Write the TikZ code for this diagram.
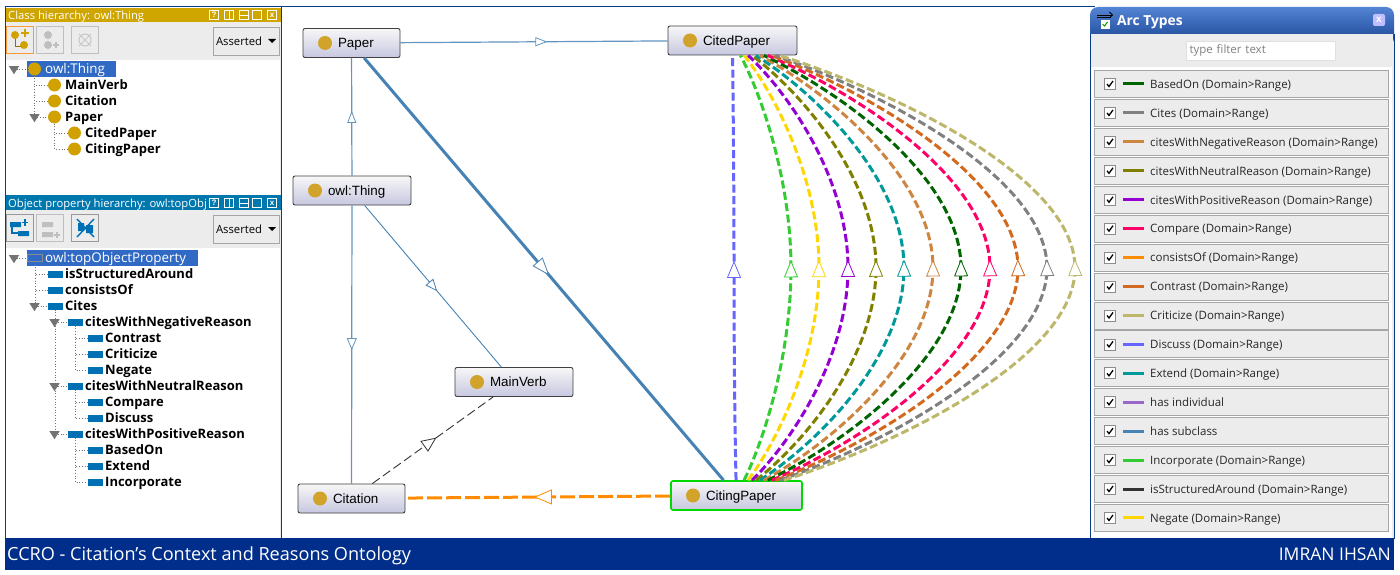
\documentclass[tikz,border=0pt]{standalone}
\usepackage{fontspec}
\setmainfont{Liberation Sans}
\newfontfamily\uifont{Open Sans}
\usetikzlibrary{arrows.meta,decorations.markings,shapes.geometric,calc}
\definecolor{frameblue}{HTML}{0A3A8C}
\definecolor{barblue}{HTML}{002E8A}
\definecolor{goldbar}{HTML}{CFA500}
\definecolor{propbar}{HTML}{0078AE}
\definecolor{panelgrey}{HTML}{ECECEC}
\definecolor{selblue}{HTML}{316AC5}
\definecolor{iconblue}{HTML}{0070B4}
\definecolor{icongold}{HTML}{D2A32A}
\definecolor{treegold}{HTML}{D0A100}
\definecolor{edgeblue}{HTML}{4682B4}
\definecolor{headtop}{HTML}{5484D4}
\definecolor{headbottom}{HTML}{153F8E}
\definecolor{arcBasedOn}{HTML}{006400}
\definecolor{arcCites}{HTML}{808080}
\definecolor{arcNegative}{HTML}{CD853F}
\definecolor{arcNeutral}{HTML}{808000}
\definecolor{arcPositive}{HTML}{9400D3}
\definecolor{arcCompare}{HTML}{FF0066}
\definecolor{arcConsists}{HTML}{FF8C00}
\definecolor{arcContrast}{HTML}{D2691E}
\definecolor{arcCriticize}{HTML}{BDB76B}
\definecolor{arcDiscuss}{HTML}{6666FF}
\definecolor{arcExtend}{HTML}{009999}
\definecolor{arcIndividual}{HTML}{9966CC}
\definecolor{arcIncorporate}{HTML}{33CC33}
\definecolor{arcStructured}{HTML}{333333}
\definecolor{arcNegate}{HTML}{FFD700}
\tikzset{
	classbox/.style={rectangle, rounded corners=2pt, draw=black!75, line width=0.9pt, top color=black!3, bottom color=blue!45!black!22, inner xsep=0pt, inner ysep=0pt, text width=#1, text height=9.5pt, text depth=0pt, minimum height=29pt, align=left, font=\fontsize{13.4}{16}\selectfont, execute at begin node={\hspace*{35pt}}, path picture={\fill[icongold] ([xshift=22pt]path picture bounding box.west) circle (7pt);}},
	treeitem/.style={anchor=base west, inner sep=0pt, font=\uifont\bfseries\fontsize{13}{15}\selectfont},
	treesel/.style={anchor=base west, inner sep=0pt, text=white, font=\uifont\fontsize{13.4}{15}\selectfont},
	treetri/.style={isosceles triangle, isosceles triangle apex angle=65, shape border rotate=270, fill=black!55, inner sep=0pt, minimum height=8pt, minimum width=10pt},
	clsicon/.style={circle, fill=treegold, inner sep=0pt, minimum size=13pt},
	propicon/.style={rectangle, fill=iconblue, inner sep=0pt, minimum width=15pt, minimum height=7pt},
	treeline/.style={black!55, line width=0.7pt, dotted},
	barlabel/.style={anchor=base west, inner sep=0pt, text=white, font=\uifont\fontsize{11.25}{14}\selectfont},
	barbtn/.style={rectangle, draw=white, line width=0.9pt, inner sep=0pt, minimum size=9pt, text=white, font=\bfseries\fontsize{8}{8}\selectfont},
	toolbtn/.style={rectangle, draw=black!25, line width=0.8pt, fill=panelgrey, inner sep=0pt, minimum width=27pt, minimum height=27pt},
	combobox/.style={rectangle, draw=black!35, line width=0.8pt, fill=panelgrey, inner sep=0pt, minimum width=66pt, minimum height=28pt, text width=60pt, align=left, font=\uifont\fontsize{11.3}{14}\selectfont},
	arcrow/.style={rectangle, draw=black!35, line width=0.8pt, fill=panelgrey, inner sep=0pt, minimum width=294pt, minimum height=27pt},
	arclabel/.style={anchor=base west, inner sep=0pt, text=black!85, font=\uifont\fontsize{11.5}{14}\selectfont},
	checkbox/.style={rectangle, draw=black!45, line width=0.7pt, fill=white, inner sep=0pt, minimum size=11pt},
	tipat/.style n args={3}{postaction={decorate}, decoration={markings, mark=at position #1 with {\arrow{Triangle[open, fill=white, length=#2, width=#3, line width=0.8pt]}}}},
	arctip/.style={postaction={decorate}, decoration={markings, mark=at position 0.5 with {\pgftransformxshift{7pt}\arrow{Triangle[open, fill=white, length=17pt, width=14pt, line width=0.8pt]}}}},
	subedge/.style={edgeblue!85, line width=1.2pt},
	arcedge/.style={line width=3pt, dash pattern=on 8pt off 3.5pt}
}
\begin{document}
\begin{tikzpicture}[x=1pt, y=-1pt]
	\useasboundingbox (0,0) rectangle (1400,575);
	\fill[white] (0,0) rectangle (1400,575);
	\fill[panelgrey] (6,8) rectangle (281,539);
	\fill[white] (6,60) rectangle (280,195);
	\fill[white] (6,248) rectangle (280,539);
	\fill[goldbar] (6,8) rectangle (281,22);
	\fill[propbar] (6,195) rectangle (281,210);
	\draw[frameblue, line width=1pt] (5,539) -- (5,7) -- (1095,7);
	\draw[frameblue, line width=1pt] (281,7) -- (281,539);
	\node[barlabel] (classtitle) at (8,19.5) {Class hierarchy: owl:Thing};
	\node[barlabel] (proptitle) at (8,207.5) {Object property hierarchy: owl:topObj};
	\foreach \bx/\bsym [count=\i] in {214/?,229/,244/,257/,272/x}{
		\node[barbtn] (clsbtn\i) at (\bx,15) {\bsym};
		\node[barbtn] (propbtn\i) at (\bx,203) {\bsym};
	}
	\draw[white, line width=0.9pt] (clsbtn2.north) -- (clsbtn2.south) (propbtn2.north) -- (propbtn2.south);
	\draw[white, line width=0.9pt] (clsbtn3.west) -- (clsbtn3.east) (propbtn3.west) -- (propbtn3.east);
	\node[toolbtn, draw=orange!80, line width=1pt] (clsadd) at (20,40) {};
	\node[toolbtn] (clssub) at (50,40) {};
	\node[toolbtn] (clsdel) at (85,40) {};
	\node[toolbtn, draw=black!40] (propadd) at (20,228) {};
	\node[toolbtn] (propsub) at (50,228) {};
	\node[toolbtn, draw=black!40] (propdel) at (85,228) {};
	\draw[treegold!70!black, line width=0.8pt] (15,37) |- (24,46);
	\fill[treegold] (15,35) circle (4pt) (24,45) circle (4pt);
	\draw[treegold, line width=1.4pt] (21,33) -- (29,33) (25,29) -- (25,37);
	\fill[black!25] (48,35) circle (4pt) (48,45) circle (4pt);
	\draw[black!25, line width=1.3pt] (53,45) -- (59,45) (56,42) -- (56,48);
	\draw[black!22, line width=1pt] (85,40) circle (6pt) (79,34) -- (91,46) (91,34) -- (79,46);
	\fill[iconblue] (10,222) rectangle (21,227) (18,231) rectangle (29,236);
	\draw[iconblue, line width=1.2pt] (12,227) |- (18,233) (25,219) -- (25,226) (22,222.5) -- (28,222.5);
	\fill[black!25] (42,222) rectangle (53,227) (42,232) rectangle (53,237);
	\draw[black!25, line width=1.3pt] (54,235) -- (60,235) (57,232) -- (57,238);
	\fill[iconblue] (78,223) rectangle (84,231) (86,225) rectangle (93,233);
	\draw[iconblue, line width=1.4pt] (77,219) -- (94,237) (94,219) -- (77,237);
	\node[combobox] (clsmode) at (246,41) {Asserted};
	\node[combobox] (propmode) at (246,229) {Asserted};
	\fill[black] (268,39) -- (276,39) -- (272,43) -- cycle (268,227) -- (276,227) -- (272,231) -- cycle;
	\fill[selblue] (27,61) rectangle (116,77);
	\fill[selblue] (27,250) rectangle (198,266);
	\node[treesel] (c-thing-t) at (45,73.7) {owl:Thing};
	\node[clsicon] (c-thing-i) at (34.5,69) {};
	\node[treetri] (c-thing-tri) at (14,69) {};
	\foreach \nm/\ix/\yy/\txt in {mainverb/54.5/85/MainVerb, citation/54.5/101/Citation, paper/54.5/117/Paper, cited/74.5/133/CitedPaper, citing/74.5/149/CitingPaper}{
		\node[clsicon] (c-\nm-i) at (\ix,\yy) {};
		\node[treeitem] (c-\nm-t) at (\ix+10.5,\yy+4.7) {\txt};
	}
	\node[treetri] (c-paper-tri) at (34.5,117) {};
	\foreach \from/\to in {c-thing-tri/c-thing-i, c-thing-i/c-mainverb-i, c-thing-i/c-citation-i, c-thing-i/c-paper-tri, c-paper-tri/c-paper-i, c-paper-i/c-cited-i, c-paper-i/c-citing-i}{
		\draw[treeline] (\from) |- (\to);
	}
	\node[treesel] (p-top-t) at (45,262.5) {owl:topObjectProperty};
	\node[propicon, fill=selblue, draw=black!45] (p-top-i) at (35,258) {};
	\node[treetri] (p-top-tri) at (14,258) {};
	\foreach \nm/\ix/\yy/\txt in {struct/55/274/isStructuredAround, consists/55/290/consistsOf, cites/55/306/Cites, neg/75/322/citesWithNegativeReason, contrast/95/338/Contrast, criticize/95/354/Criticize, negate/95/370/Negate, neutral/75/386/citesWithNeutralReason, compare/95/402/Compare, discuss/95/418/Discuss, pos/75/434/citesWithPositiveReason, basedon/95/450/BasedOn, extend/95/466/Extend, incorporate/95/482/Incorporate}{
		\node[propicon] (p-\nm-i) at (\ix,\yy) {};
		\node[treeitem] (p-\nm-t) at (\ix+10,\yy+4.5) {\txt};
	}
	\foreach \nm/\ix/\yy in {cites/34.5/306, neg/54.5/322, neutral/54.5/386, pos/54.5/434}{
		\node[treetri] (p-\nm-tri) at (\ix,\yy) {};
		\draw[treeline] (p-\nm-tri) -- (p-\nm-i);
	}
	\foreach \from/\to in {p-top-tri/p-top-i, p-top-i/p-struct-i, p-top-i/p-consists-i, p-top-i/p-cites-tri, p-cites-i/p-neg-tri, p-cites-i/p-neutral-tri, p-cites-i/p-pos-tri, p-neg-i/p-contrast-i, p-neg-i/p-criticize-i, p-neg-i/p-negate-i, p-neutral-i/p-compare-i, p-neutral-i/p-discuss-i, p-pos-i/p-basedon-i, p-pos-i/p-extend-i, p-pos-i/p-incorporate-i}{
		\draw[treeline] (\from) |- (\to);
	}
	\node[classbox=97pt] (paper) at (351.5,43) {Paper};
	\node[classbox=118pt] (thing) at (352,190.5) {owl:Thing};
	\node[classbox=129pt] (cited) at (732.5,40.5) {CitedPaper};
	\node[classbox=118pt] (mainverb) at (514,382) {MainVerb};
	\node[classbox=107pt] (citation) at (351.5,498.5) {Citation};
	\node[classbox=131pt, draw=green!85!black, line width=1.6pt] (citing) at (736.5,495.5) {CitingPaper};
	\draw[subedge, tipat={0.55}{12pt}{9pt}] (paper) -- (cited);
	\draw[subedge, tipat={0.55}{12pt}{9pt}] (thing) -- (paper);
	\draw[subedge, tipat={0.52}{12pt}{10pt}] (thing) -- (citation);
	\draw[edgeblue, line width=0.9pt, tipat={0.53}{12pt}{10pt}] (thing) -- (mainverb);
	\draw[edgeblue, line width=3pt, tipat={0.515}{18pt}{13pt}] (paper) -- (citing);
	\draw[black!80, line width=0.9pt, dash pattern=on 9pt off 4pt, tipat={0.53}{15pt}{13pt}] (citation) -- (mainverb);
	\draw[arcConsists, line width=3pt, dash pattern=on 15pt off 4pt, tipat={0.515}{18pt}{15pt}] (citing) -- (citation);
	\foreach \px/\arccol in {734/arcDiscuss, 791/arcIncorporate, 819/arcNegate, 848/arcPositive, 876/arcNeutral, 904/arcExtend, 933/arcNegative, 961/arcBasedOn, 990/arcCompare, 1018/arcContrast, 1047/arcCites, 1075/arcCriticize}{
		\draw[arcedge, \arccol, arctip] (citing) .. controls ({(736+\px)/2},441) and (\px,356) .. (\px,268) .. controls (\px,180) and ({(732+\px)/2},95) .. (cited);
	}
	\fill[panelgrey] (1090,30) rectangle (1394,539);
	\fill[white] (1090,67) rectangle (1392,539);
	\shade[top color=headtop, bottom color=headbottom, rounded corners=8pt] (1090,7) -- (1394,7) -- (1394,46) -- (1090,46) -- cycle;
	\fill[panelgrey] (1091,34) rectangle (1393,67);
	\draw[frameblue, line width=1pt] (1090,34) -- (1090,539) (1394,34) -- (1394,539);
	\node[inner sep=0pt, anchor=base west, text=white, font=\uifont\bfseries\fontsize{13.8}{16}\selectfont] (arctitle) at (1117,26) {Arc Types};
	\node[checkbox, minimum size=8pt, draw=white] (arccheck) at (1105,24) {};
	\draw[green!60!black, line width=1pt] (1102.5,24) -- (1104.5,26) -- (1107.5,22);
	\draw[black, -{Straight Barb[length=3pt]}, line width=0.8pt] (1097,15) -- (1113,15);
	\draw[black, line width=0.8pt] (1097,17) -- (1111,17);
	\node[rectangle, rounded corners=2pt, fill=blue!25!white, inner sep=0pt, minimum size=12pt, text=white, font=\bfseries\fontsize{10}{10}\selectfont] (arcclose) at (1379,20) {x};
	\node[rectangle, draw=black!12, fill=white, inner sep=0pt, minimum width=149pt, minimum height=19pt, text width=143pt, align=left, text=black!50, font=\uifont\fontsize{11.5}{14}\selectfont] (arcfilter) at (1261,50.5) {type filter text};
	\foreach \arcname/\arccol [count=\i from 0] in {BasedOn/arcBasedOn, Cites/arcCites, citesWithNegativeReason/arcNegative, citesWithNeutralReason/arcNeutral, citesWithPositiveReason/arcPositive, Compare/arcCompare, consistsOf/arcConsists, Contrast/arcContrast, Criticize/arcCriticize, Discuss/arcDiscuss, Extend/arcExtend, has individual/arcIndividual, has subclass/edgeblue, Incorporate/arcIncorporate, isStructuredAround/arcStructured, Negate/arcNegate}{
		\node[arcrow] (row\i) at (1241,{84+28.93*\i}) {};
		\node[checkbox] (check\i) at (1110,{84+28.93*\i}) {};
		\draw[line width=1.3pt, black] ([shift={(-3pt,0pt)}]check\i.center) -- ([shift={(-1pt,-2.5pt)}]check\i.center) -- ([shift={(3pt,3pt)}]check\i.center);
		\coordinate (swatch\i) at (1123,{84+28.93*\i});
		\draw[\arccol, line width=3pt] (swatch\i) -- ++(21,0);
		\ifnum\i=11
			\node[arclabel] (label\i) at (1150,{88.3+28.93*\i}) {\arcname};
		\else\ifnum\i=12
			\node[arclabel] (label\i) at (1150,{88.3+28.93*\i}) {\arcname};
		\else
			\node[arclabel] (label\i) at (1150,{88.3+28.93*\i}) {\arcname{} (Domain>Range)};
		\fi\fi
	}
	\fill[barblue] (5,538) rectangle (1394,570);
	\node[anchor=base west, inner sep=0pt, text=white, font=\fontsize{18.1}{20}\selectfont\uifont] (footleft) at (7,560) {CCRO - Citation’s Context and Reasons Ontology};
	\node[anchor=base east, inner sep=0pt, text=white, font=\fontsize{17.5}{20}\selectfont\uifont] (footright) at (1391,560) {IMRAN IHSAN};
\end{tikzpicture}
\end{document}
